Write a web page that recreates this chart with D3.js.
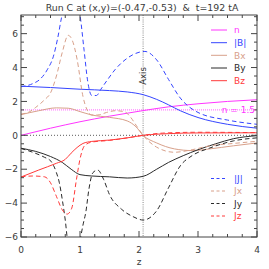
<!DOCTYPE html>
<html><head><meta charset="utf-8">
<script src="https://cdn.jsdelivr.net/npm/d3@7"></script>
<style>body{margin:0;background:#fff}svg{display:block}text{font-family:"DejaVu Sans",sans-serif}</style>
</head><body><div id="c"></div>
<script>
const title = "Run C at (x,y)=(-0.47,-0.53)  &  t=192 tA";
const xTicks = [0,1,2,3,4];
const yTicks = [-6,-4,-2,0,2,4,6];
const axisZ = 2.07;
const nRef = 1.5;
// series: [z, value]
const nData  = [[0,0],[0.5,0.42],[1,0.8],[1.5,1.13],[2,1.42],[2.5,1.68],[3,1.86],[3.5,2.0],[4,2.1]];
const bAbs   = [[0,2.9],[0.5,2.82],[1,2.72],[1.5,2.64],[1.8,2.56],[2.07,2.4],[2.3,2.12],[2.5,1.8],[2.7,1.45],[3,1.05],[3.5,0.65],[4,0.42]];
const bx     = [[0,1.22],[0.3,1.45],[0.6,1.62],[0.8,1.6],[1.0,1.4],[1.2,1.2],[1.5,1.06],[1.8,0.85],[1.95,0.5],[2.07,0],[2.3,-0.45],[2.6,-0.8],[2.9,-0.9],[3.2,-0.8],[3.6,-0.62],[4,-0.45]];
const by     = [[0,-0.76],[0.25,-0.95],[0.5,-1.25],[0.7,-1.6],[0.85,-2.0],[1.0,-2.32],[1.2,-2.4],[1.5,-2.45],[1.8,-2.52],[2.07,-2.42],[2.3,-2.0],[2.5,-1.6],[2.75,-1.2],[3.0,-0.85],[3.3,-0.5],[3.6,-0.2],[4,-0.02]];
const bz     = [[0,-2.46],[0.3,-2.05],[0.6,-1.65],[0.75,-1.42],[0.85,-1.05],[0.95,-0.72],[1.05,-0.48],[1.2,-0.36],[1.5,-0.28],[1.8,-0.15],[2.07,0],[2.5,0.1],[3,0.14],[4,0.15]];
const jAbs   = [[0,2.87],[0.2,3.05],[0.32,3.3],[0.45,3.9],[0.55,4.67],[0.62,5.7],[0.69,7.0],[0.78,8.2],[0.9,8.4],[1.0,7.1],[1.07,5.0],[1.13,3.2],[1.2,2.35],[1.28,2.35],[1.35,2.7],[1.45,3.2],[1.6,3.9],[1.8,4.55],[2.0,4.9],[2.1,4.95],[2.3,4.45],[2.5,3.3],[2.7,2.2],[3.0,1.35],[3.5,0.9],[4,0.65]];
const jx     = [[0,1.25],[0.15,1.4],[0.25,1.65],[0.4,2.1],[0.5,2.5],[0.6,3.5],[0.7,4.9],[0.8,5.9],[0.87,5.6],[0.95,4.5],[1.05,2.3],[1.12,1.5],[1.2,1.2],[1.3,1.2],[1.45,1.35],[1.6,1.45],[1.75,1.4],[1.85,1.1],[1.95,0.6],[2.07,0],[2.3,-0.7],[2.6,-1.0],[2.9,-0.85],[3.2,-0.62],[3.6,-0.48],[4,-0.35]];
const jy     = [[0,-0.78],[0.2,-1.0],[0.4,-1.3],[0.5,-1.5],[0.6,-2.2],[0.65,-2.8],[0.7,-3.8],[0.75,-5.0],[0.8,-6.5],[0.9,-7.4],[1.0,-6.2],[1.05,-5.3],[1.1,-4.5],[1.15,-3.2],[1.22,-2.2],[1.3,-2.05],[1.4,-2.6],[1.5,-3.5],[1.7,-4.35],[1.9,-4.8],[2.07,-5.0],[2.3,-4.45],[2.5,-3.1],[2.7,-1.8],[2.9,-1.2],[3.2,-0.75],[3.6,-0.33],[4,-0.15]];
const jz     = [[0,-2.45],[0.2,-2.4],[0.4,-2.45],[0.5,-2.8],[0.6,-3.6],[0.7,-4.4],[0.78,-4.65],[0.86,-4.3],[0.94,-2.6],[1.0,-1.4],[1.08,-0.6],[1.2,-0.4],[1.5,-0.3],[1.8,-0.15],[2.07,0],[2.4,0.13],[3,0.18],[4,0.16]];

const C = {n:"#ff35ff", b:"#3545ff", x:"#d8a08a", y:"#2a2a2a", z:"#ff3a3a"};
const series = [
  {d:nData, c:C.n, dash:null, lab:"n"},
  {d:bAbs, c:C.b, dash:null, lab:"|B|"},
  {d:bx, c:C.x, dash:null, lab:"Bx"},
  {d:by, c:C.y, dash:null, lab:"By"},
  {d:bz, c:C.z, dash:null, lab:"Bz"},
  {d:jAbs, c:C.b, dash:"4.5,3", lab:"|J|"},
  {d:jx, c:C.x, dash:"4.5,3", lab:"Jx"},
  {d:jy, c:C.y, dash:"4.5,3", lab:"Jy"},
  {d:jz, c:C.z, dash:"4.5,3", lab:"Jz"}
];

const W=269,H=269, L=21, R=257, T=15, B=237;
const x = d3.scaleLinear().domain([0,4]).range([L,R]);
const y = d3.scaleLinear().domain([-6,7.1]).range([B,T]);
const svg = d3.select("#c").append("svg").attr("width",W).attr("height",H);
svg.append("defs").append("clipPath").attr("id","clip").append("rect")
  .attr("x",L).attr("y",T).attr("width",R-L).attr("height",B-T);

const g = svg.append("g").attr("clip-path","url(#clip)");
// reference lines
g.append("line").attr("x1",x(0)).attr("x2",x(4)).attr("y1",y(nRef)).attr("y2",y(nRef))
  .attr("stroke","#ff80ff").attr("stroke-width",1.3).attr("stroke-dasharray","1,1");
g.append("line").attr("x1",x(0)).attr("x2",x(4)).attr("y1",y(0)).attr("y2",y(0))
  .attr("stroke","#333").attr("stroke-width",0.8).attr("stroke-dasharray","1,2");
g.append("line").attr("x1",x(axisZ)).attr("x2",x(axisZ)).attr("y1",T).attr("y2",B)
  .attr("stroke","#aaa").attr("stroke-width",1.4).attr("stroke-dasharray","1,1.2");

const line = d3.line().x(d=>x(d[0])).y(d=>y(d[1])).curve(d3.curveMonotoneX);
series.forEach(s=>{
  g.append("path").attr("d",line(s.d)).attr("fill","none").attr("stroke",s.c)
   .attr("stroke-width",1).attr("stroke-dasharray",s.dash);
});

// frame
svg.append("rect").attr("x",L).attr("y",T).attr("width",R-L).attr("height",B-T)
  .attr("fill","none").attr("stroke","#444").attr("stroke-width",1);
// ticks
const ax = svg.append("g").attr("stroke","#444").attr("stroke-width",1);
d3.range(0,4.001,0.25).forEach(v=>{
  const major = Math.abs(v-Math.round(v))<1e-6, len = major?6:3;
  ax.append("line").attr("x1",x(v)).attr("x2",x(v)).attr("y1",B).attr("y2",B-len);
  ax.append("line").attr("x1",x(v)).attr("x2",x(v)).attr("y1",T).attr("y2",T+len);
});
d3.range(-6,7.001,0.5).forEach(v=>{
  const major = yTicks.includes(v), len = major?6:3;
  ax.append("line").attr("x1",L).attr("x2",L+len).attr("y1",y(v)).attr("y2",y(v));
  ax.append("line").attr("x1",R).attr("x2",R-len).attr("y1",y(v)).attr("y2",y(v));
});
const tx = svg.append("g").attr("fill","#3a3a3a").attr("font-size",9);
xTicks.forEach(v=>tx.append("text").attr("x",x(v)).attr("y",253).attr("text-anchor","middle").text(v));
yTicks.forEach(v=>tx.append("text").attr("x",18).attr("y",y(v)+3.2).attr("text-anchor","end").text(v<0?"\u2212"+(-v):v));
tx.append("text").attr("x",x(2)).attr("y",265).attr("text-anchor","middle").text("z");
svg.append("text").attr("x",142).attr("y",11).attr("text-anchor","middle").attr("font-size",9.4)
  .attr("fill","#3a3a3a").style("white-space","pre").text(title);
svg.append("text").attr("transform",`translate(${x(axisZ)+3},76) rotate(-90)`).attr("text-anchor","middle")
  .attr("font-size",8.5).attr("fill","#333").text("Axis");
svg.append("text").attr("x",255).attr("y",y(nRef)+3).attr("text-anchor","end").attr("font-size",9)
  .attr("fill",C.n).text("n = 1.5");

// legends
const legY1 = [30,42.7,55.3,68,80.7], legY2 = [178.5,191,203.5,216];
series.forEach((s,i)=>{
  const yy = i<5 ? legY1[i] : legY2[i-5];
  svg.append("line").attr("x1",211).attr("x2",227).attr("y1",yy).attr("y2",yy)
    .attr("stroke",s.c).attr("stroke-width",1).attr("stroke-dasharray",s.dash?"3,2.5":null);
  svg.append("text").attr("x",234).attr("y",yy+3.3).attr("font-size",9).attr("fill",s.c).text(s.lab);
});
</script></body></html>
